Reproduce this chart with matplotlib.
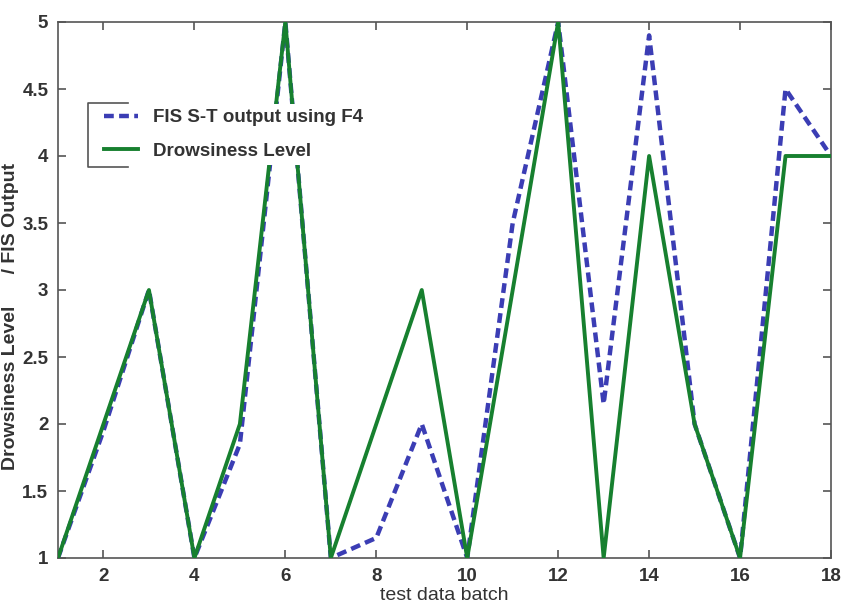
import numpy as np
import matplotlib.pyplot as plt
from matplotlib.lines import Line2D

plt.rcParams['font.family'] = ['Liberation Sans Narrow', 'Liberation Sans', 'DejaVu Sans']

# test batches and the two output series
batch = np.arange(1, 19)
fis_output = [1, 1.95, 3, 1, 1.85, 5, 1, 1.15, 2, 1, 3.5, 5, 2.15, 4.9, 2, 1, 4.5, 4]
drowsiness = [1, 2, 3, 1, 2, 5, 1, 2, 3, 1, 3, 5, 1, 4, 2, 1, 4, 4]

xticks = [2, 4, 6, 8, 10, 12, 14, 16, 18]
yticks = [1, 1.5, 2, 2.5, 3, 3.5, 4, 4.5, 5]

blue = '#3b3db4'
green = '#17802f'

fig = plt.figure(figsize=(8.41, 6.06), dpi=100)
ax = fig.add_axes([58 / 841, 1 - 558 / 606, 773 / 841, 536 / 606])

ax.plot(batch, fis_output, '--', color=blue, lw=3.2, dashes=(2.2, 1.2),
        label='FIS S-T output using F4', zorder=2)
ax.plot(batch, drowsiness, '-', color=green, lw=2.8, label='Drowsiness Level', zorder=3)

ax.set_xlim(1, 18)
ax.set_ylim(1, 5)
ax.set_xticks(xticks)
ax.set_yticks(yticks)
ax.set_yticklabels([f'{v:g}' for v in yticks])
ax.tick_params(direction='in', length=6, width=1.2, colors='#555555',
               labelcolor='#333333', labelsize=13.5, top=True, right=True, pad=7)
for lab in ax.get_xticklabels() + ax.get_yticklabels():
    lab.set_fontweight('bold')
for s in ax.spines.values():
    s.set_color('#555555')
    s.set_linewidth(1.2)

ax.set_xlabel('test data batch', fontsize=14, color='#333333', labelpad=2)
ax.set_ylabel('Drowsiness Level      / FIS Output', fontsize=14, fontweight='bold',
              color='#333333')
ax.yaxis.set_label_coords(-0.05, 0.45)

leg = ax.legend(loc='upper left', bbox_to_anchor=(0.04, 0.865),
                prop={'weight': 'bold', 'size': 13.5}, handlelength=1.8,
                handletextpad=0.8, borderpad=0.3, labelspacing=0.85,
                fancybox=False, framealpha=1)
leg.get_frame().set_edgecolor('none')
for t in leg.get_texts():
    t.set_color('#333333')
leg.set_zorder(5)

# partial frame on the left side of the legend
ax.add_line(Line2D([0.091, 0.039, 0.039, 0.091], [0.849, 0.849, 0.729, 0.729],
                   transform=ax.transAxes, color='#555555', lw=1.2, zorder=6))

fig.savefig('out.png', dpi=100)
